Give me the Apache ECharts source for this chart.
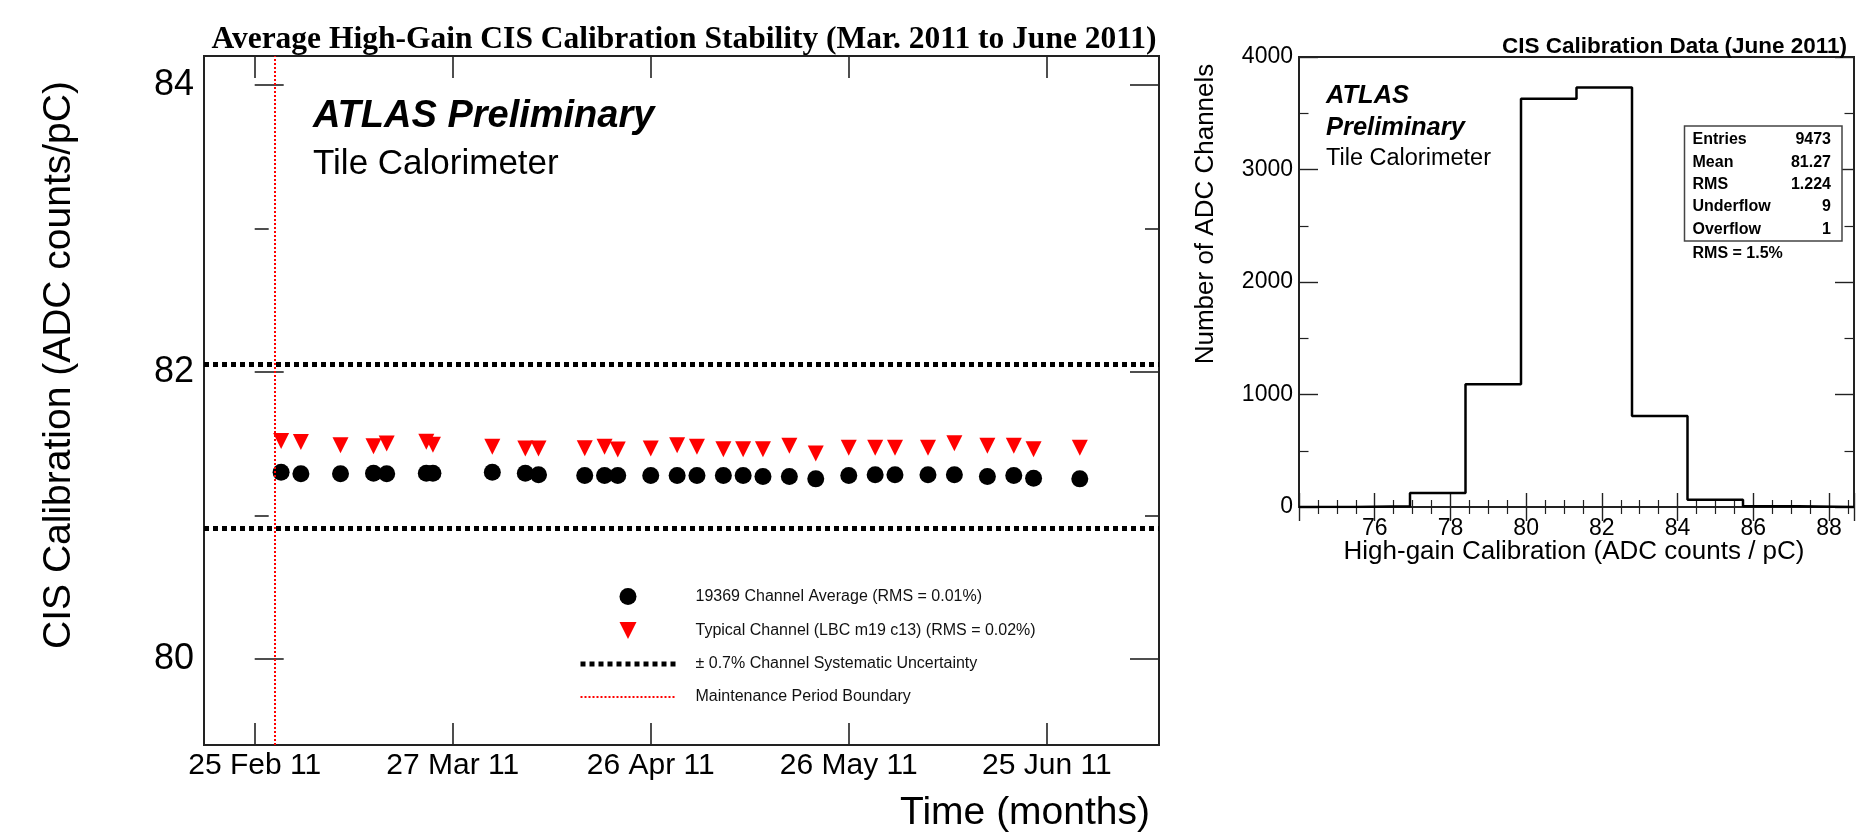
<!DOCTYPE html>
<html><head><meta charset="utf-8">
<script src="https://cdn.jsdelivr.net/npm/echarts@6/dist/echarts.min.js"></script>
<style>html,body{margin:0;padding:0;background:#fff}#c{width:1857px;height:837px}</style>
</head><body><div id="c"></div>
<script>
// ---------------- data ----------------
const measurementDates = ['2011-03-01','2011-03-04','2011-03-10','2011-03-15','2011-03-17','2011-03-23','2011-03-24',
  '2011-04-02','2011-04-07','2011-04-09','2011-04-16','2011-04-19','2011-04-21','2011-04-26','2011-04-30',
  '2011-05-03','2011-05-07','2011-05-10','2011-05-13','2011-05-17','2011-05-21','2011-05-26','2011-05-30',
  '2011-06-02','2011-06-07','2011-06-11','2011-06-16','2011-06-20','2011-06-23','2011-06-30'];
const channelAverage = [81.300,81.289,81.289,81.293,81.289,81.293,81.293,81.300,81.293,81.282,81.277,81.277,81.277,81.277,81.277,
  81.277,81.277,81.277,81.270,81.270,81.254,81.277,81.282,81.282,81.282,81.282,81.270,81.277,81.258,81.254];
const typicalChannel = [81.518,81.511,81.489,81.481,81.501,81.512,81.491,81.477,81.465,81.465,81.467,81.477,81.458,81.466,81.488,
  81.477,81.460,81.460,81.460,81.484,81.430,81.470,81.470,81.470,81.470,81.503,81.484,81.484,81.460,81.470];
const systematicBand = [82.05, 80.905];
const maintenanceBoundary = ['2011-02-28'];
const timeTickDates = ['2011-02-25','2011-03-27','2011-04-26','2011-05-26','2011-06-25'];
const timeTickLabels = ['25 Feb 11','27 Mar 11','26 Apr 11','26 May 11','25 Jun 11'];
const calibMajorTicks = [80, 82, 84];
const calibMinorTicks = [81, 83];
const seriesNames = ['19369 Channel Average (RMS = 0.01%)','Typical Channel (LBC m19 c13) (RMS = 0.02%)',
  '\u00B1 0.7% Channel Systematic Uncertainty','Maintenance Period Boundary'];

const histBinEdges = [74.0,75.466,76.932,78.398,79.864,81.33,82.796,84.262,85.728,87.194,88.66];
const histCounts = [0,6,124,1092,3630,3730,810,64,7,0];
const statsLabels = ['Entries','Mean','RMS','Underflow','Overflow'];
const statsValues = ['9473','81.27','1.224','9','1'];

// ---------------- helpers ----------------
const day0 = Date.UTC(2011,1,25);
const toDay = s => (Date.parse(s + 'T00:00:00Z') - day0) / 86400000;
const tickDays = timeTickDates.map(toDay);
const SANS = 'Liberation Sans, Arial, Helvetica, sans-serif';
const SERIF = 'Liberation Serif, Times New Roman, serif';
const INK = '#222';
const downTri = 'path://M0,0L10,0L5,10Z';

const chart = echarts.init(document.getElementById('c'), null, {renderer:'canvas'});

const hidden = {show:false};
function calibAxis(pos, ticks, len, labels){
  return {
    type:'value', gridIndex:0, position:pos, min:79.4, max:84.2,
    axisLine:{show:false}, splitLine:hidden,
    axisTick:{show:true, inside:true, length:len, customValues:ticks, lineStyle:{color:INK, width:1.6}},
    axisLabel: labels ? {show:true, customValues:ticks, fontSize:36, fontFamily:SANS, color:'#000', margin:10} : hidden
  };
}
function timeAxis(pos, labels){
  return {
    type:'value', gridIndex:0, position:pos, min:-7.68, max:137,
    axisLine:{show:false}, splitLine:hidden,
    axisTick:{show:true, inside:true, length:22, customValues:tickDays, lineStyle:{color:INK, width:1.6}},
    axisLabel: labels ? {show:true, customValues:tickDays, fontSize:30, fontFamily:SANS, color:'#000', margin:6,
      formatter: v => { const i = tickDays.indexOf(v); return i >= 0 ? timeTickLabels[i] : ''; }} : hidden
  };
}
function histX(pos, labels){
  return {
    type:'value', gridIndex:1, position:pos, min:74, max:88.66, interval:2,
    axisLine:{show:false}, splitLine:hidden,
    axisTick:{show:true, inside:true, length:14, lineStyle:{color:INK, width:1.4}},
    minorTick:{show:true, splitNumber:4, length:7, lineStyle:{color:INK, width:1.2}},
    axisLabel: labels ? {show:true, fontSize:23, fontFamily:SANS, color:'#000', margin:10,
      formatter: v => (Math.abs(v % 2) < 1e-6 && v > 74.5 && v < 88.5) ? String(v) : ''} : hidden
  };
}
function histY(pos, labels){
  return {
    type:'value', gridIndex:1, position:pos, min:0, max:4000, interval:1000,
    axisLine:{show:false}, splitLine:hidden,
    axisTick:{show:true, inside:true, length:19, lineStyle:{color:INK, width:1.4}},
    minorTick:{show:true, splitNumber:2, length:9.5, lineStyle:{color:INK, width:1.2}},
    axisLabel: labels ? {show:true, fontSize:23, fontFamily:SANS, color:'#000', margin:6, formatter: v => String(v)} : hidden
  };
}

const histData = histBinEdges.map((e,i) => [e, histCounts[Math.min(i, histCounts.length-1)]]);

const texts = [];
function txt(x, y, s, size, opts){
  texts.push(Object.assign({type:'text', x:x, y:y, silent:true, z:100,
    style:Object.assign({text:s, fontSize:size, fontFamily:SANS, fill:'#000', align:'left', verticalAlign:'middle'}, opts && opts.style || {})},
    opts && opts.el || {}));
}
// left panel texts
txt(684, 39.5, 'Average High-Gain CIS Calibration Stability (Mar. 2011 to June 2011)', 31.5, {style:{fontFamily:SERIF, fontWeight:'bold', align:'center'}});
txt(313, 117, 'ATLAS Preliminary', 38, {style:{fontWeight:'bold', fontStyle:'italic'}});
txt(313, 164.5, 'Tile Calorimeter', 35);
txt(59, 365, 'CIS Calibration (ADC counts/pC)', 39, {style:{align:'center'}, el:{rotation:Math.PI/2}});
txt(1150, 813, 'Time (months)', 39, {style:{align:'right'}});
// right panel texts
txt(1847, 47, 'CIS Calibration Data (June 2011)', 22.5, {style:{fontWeight:'bold', align:'right'}});
txt(1326, 96, 'ATLAS', 25.5, {style:{fontWeight:'bold', fontStyle:'italic'}});
txt(1326, 128, 'Preliminary', 25.5, {style:{fontWeight:'bold', fontStyle:'italic'}});
txt(1326, 159, 'Tile Calorimeter', 23.5);
txt(1206, 214, 'Number of ADC Channels', 26, {style:{align:'center'}, el:{rotation:Math.PI/2}});
txt(1574, 552, 'High-gain Calibration (ADC counts / pC)', 26, {style:{align:'center'}});
// stats box
texts.push({type:'rect', shape:{x:1684.5, y:126, width:157.5, height:115}, silent:true, z:90,
  style:{fill:'#fff', stroke:'#444', lineWidth:1.5}});
statsLabels.forEach((s,i) => {
  txt(1692.5, 140 + i*22.3, s, 16, {style:{fontWeight:'bold'}});
  txt(1831, 140 + i*22.3, statsValues[i], 16, {style:{fontWeight:'bold', align:'right'}});
});
txt(1692.5, 254, 'RMS = 1.5%', 16, {style:{fontWeight:'bold'}});

const option = {
  animation:false,
  backgroundColor:'#fff',
  grid:[
    {left:204, right:698, top:56, bottom:92, show:true, borderColor:INK, borderWidth:2, backgroundColor:'transparent'},
    {left:1299, right:-6, top:57, bottom:330, show:true, borderColor:INK, borderWidth:2, backgroundColor:'transparent'}
  ],
  xAxis:[ timeAxis('bottom', true), timeAxis('top', false), histX('bottom', true), histX('top', false) ],
  yAxis:[
    calibAxis('left', calibMajorTicks, 29, true), calibAxis('left', calibMinorTicks, 14, false),
    calibAxis('right', calibMajorTicks, 29, false), calibAxis('right', calibMinorTicks, 14, false),
    histY('left', true), histY('right', false)
  ],
  legend:{
    show:true, orient:'vertical', left:573, top:583, itemWidth:95, itemHeight:17, itemGap:17,
    selectedMode:false,
    textStyle:{fontSize:16, fontFamily:SANS, color:'#111', padding:[0,0,0,15]},
    data:[
      {name:seriesNames[0], itemStyle:{color:'#000', opacity:1}},
      {name:seriesNames[1], itemStyle:{color:'#ff0000', opacity:1}},
      {name:seriesNames[2], itemStyle:{opacity:0, borderWidth:0}, lineStyle:{color:'#000', width:5, type:[5,4], opacity:1}},
      {name:seriesNames[3], itemStyle:{opacity:0, borderWidth:0}, lineStyle:{color:'#ff0000', width:2, type:[2,2], opacity:1}}
    ]
  },
  graphic:{elements:texts},
  series:[
    {
      name:seriesNames[3], type:'line', xAxisIndex:0, yAxisIndex:0, data:[], symbol:'none', showSymbol:false, z:1,
      itemStyle:{color:'#ff0000', opacity:0},
      lineStyle:{color:'#ff0000', width:2, type:[2,2]},
      markLine:{silent:true, symbol:['none','none'], label:{show:false},
        lineStyle:{color:'#ff0000', width:2, type:[2,2], opacity:1},
        data: maintenanceBoundary.map(d => ({xAxis: toDay(d)}))}
    },
    {
      name:seriesNames[2], type:'line', xAxisIndex:0, yAxisIndex:0, data:[], symbol:'none', showSymbol:false, z:1,
      itemStyle:{color:'#000', opacity:0},
      lineStyle:{color:'#000', width:5, type:[5,4]},
      markLine:{silent:true, symbol:['none','none'], label:{show:false},
        lineStyle:{color:'#000', width:5, type:[5,4], opacity:1},
        data: systematicBand.map(v => ({yAxis: v}))}
    },
    {
      name:seriesNames[0], type:'scatter', xAxisIndex:0, yAxisIndex:0, symbol:'circle', symbolSize:17, z:3,
      itemStyle:{color:'#000', opacity:1},
      data: measurementDates.map((d,i) => [toDay(d), channelAverage[i]])
    },
    {
      name:seriesNames[1], type:'scatter', xAxisIndex:0, yAxisIndex:0, symbol:downTri, symbolSize:16, z:3,
      itemStyle:{color:'#ff0000', opacity:1},
      data: measurementDates.map((d,i) => [toDay(d), typicalChannel[i]])
    },
    {
      name:'histogram', type:'line', xAxisIndex:2, yAxisIndex:4, step:'end', symbol:'none', z:2,
      lineStyle:{color:'#000', width:2.5},
      data: histData
    }
  ]
};
chart.setOption(option);
</script></body></html>
